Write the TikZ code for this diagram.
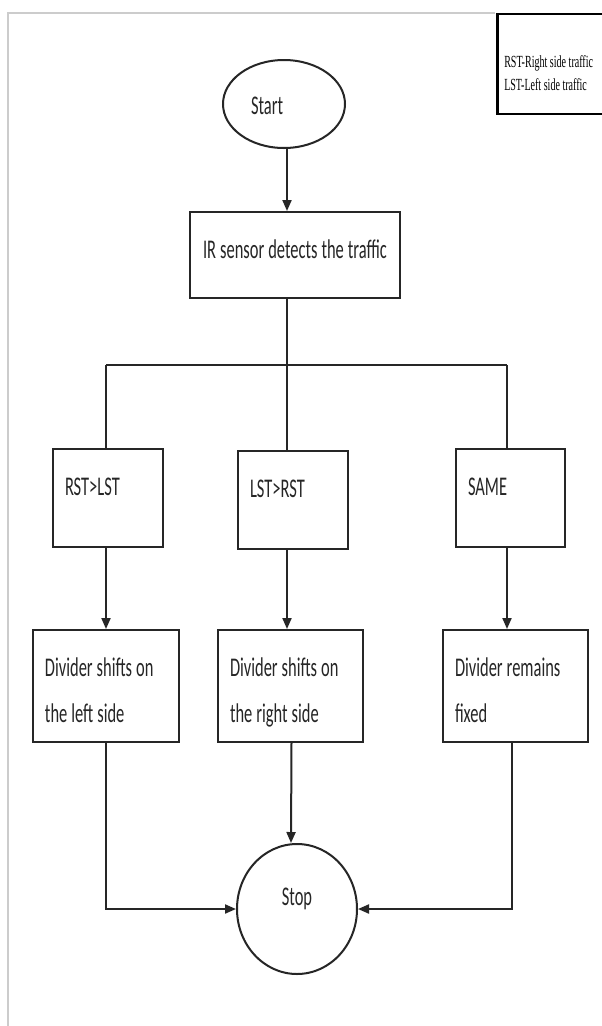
\documentclass[tikz,border=0pt]{standalone}
\usepackage{fontspec}
\setmainfont[FakeStretch=0.61]{Carlito}
\newfontfamily\legendfont[FakeStretch=0.59]{Liberation Serif}
\usetikzlibrary{shapes.geometric,arrows.meta}
\newcommand\fcfont{\fontsize{27pt}{46pt}\selectfont}
\newcommand\fcspace{\spaceskip=4pt plus 1pt minus 0.5pt\relax\xspaceskip=\spaceskip\relax}
\newcommand\lgfont{\legendfont\fontsize{17pt}{23pt}\selectfont}
\newcommand\lgspace{\spaceskip=2.6pt plus 0.5pt minus 0.3pt\relax\xspaceskip=\spaceskip\relax}
\begin{document}
\begin{tikzpicture}[x=1pt,y=-1pt,
  line/.style={line width=2pt, draw=black!85},
  arr/.style={line, -{Triangle[length=11pt,width=9pt]}},
  fcbox/.style={draw=black!85, line width=2pt, rectangle, align=left, inner xsep=12pt, inner ysep=0pt,
    text height=46pt, font=\fcfont, text=black!85, execute at begin node=\fcspace},
  term/.style={draw=black!85, line width=2pt, ellipse, inner sep=0pt, font=\fcfont, text=black!85},
  frame/.style={draw=black!20, line width=2pt}]
\useasboundingbox (0,0) rectangle (602,1026);
\fill[white] (0,0) rectangle (602,1026);
\draw[frame] (8,1026) -- (8,13) -- (495,13);

\node[draw=black, line width=2.5pt, anchor=north west, inner xsep=7pt, inner ysep=0pt,
  text width=130pt, align=left, text height=54pt, text depth=46pt, font=\lgfont,
  execute at begin node=\lgspace] (legend) at (496,12.5)
  {RST-Right side traffic\\LST-Left side traffic};

\node[term, minimum width=122pt, minimum height=88pt, text width=66pt, align=left,
  text height=20pt, text depth=0pt] (start) at (284,104) {Start};
\node[fcbox, minimum width=210pt, align=center, text depth=40pt] (ir) at (295,255)
  {IR sensor detects the traffic};
\node[fcbox, text width=86pt, text depth=52pt] (c1) at (108,498) {RST>LST};
\node[fcbox, text width=86pt, text depth=52pt] (c2) at (293,500) {LST>RST};
\node[fcbox, text width=85pt, text depth=52pt] (c3) at (510.5,498) {SAME};
\node[fcbox, text width=122pt, text depth=66pt] (a1) at (106,686) {Divider shifts on\\the left side};
\node[fcbox, text width=121pt, text depth=66pt] (a2) at (290.5,686) {Divider shifts on\\the right side};
\node[fcbox, text width=121pt, text depth=66pt] (a3) at (515.5,686) {Divider remains\\fixed};
\node[term, minimum width=120pt, minimum height=130pt, text height=20pt, text depth=28pt] (stop) at (297,909) {Stop};

\coordinate (bl) at (106,365);
\coordinate (bm) at (287,365);
\coordinate (br) at (507,365);

\draw[arr] ([xshift=3pt]start.south) -- ([xshift=-8pt]ir.north);
\draw[line] ([xshift=-8pt]ir.south) -- (bm);
\draw[line] (bl) -- (br);
\draw[line] (bl) -- ([xshift=-2pt]c1.north);
\draw[line] (bm) -- ([xshift=-6pt]c2.north);
\draw[line] (br) -- ([xshift=-3.5pt]c3.north);
\draw[arr] ([xshift=-2pt]c1.south) -- (a1.north);
\draw[arr] ([xshift=-6pt]c2.south) -- ([xshift=-3.5pt]a2.north);
\draw[arr] ([xshift=-3.5pt]c3.south) -- ([xshift=-8.5pt]a3.north);
\draw[arr] (a1.south) |- (stop.west);
\draw[arr] ([xshift=1pt]a2.south) -- ([xshift=-6pt]stop.north);
\draw[arr] ([xshift=-3.5pt]a3.south) |- (stop.east);
\end{tikzpicture}
\end{document}
